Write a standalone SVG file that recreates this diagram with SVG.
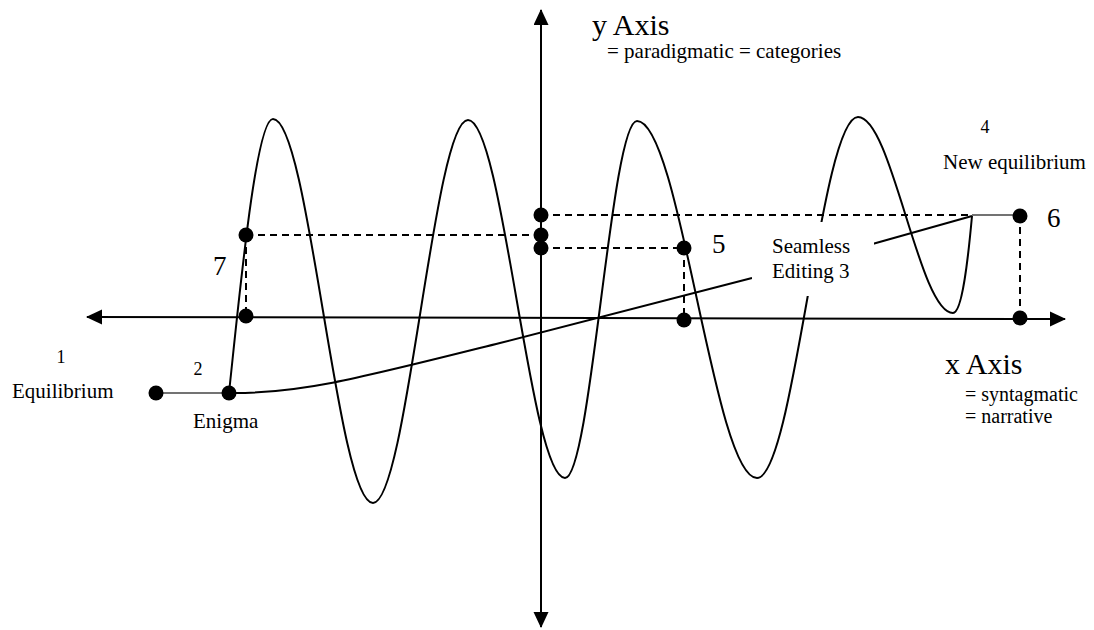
<svg xmlns="http://www.w3.org/2000/svg" width="1094" height="630" viewBox="0 0 1094 630">
  <style>
    .ax { stroke:#000; stroke-width:2; fill:none; }
    .wave { stroke:#000; stroke-width:2; fill:none; }
    .dash { stroke:#000; stroke-width:2; stroke-dasharray:7,5; fill:none; }
    .thin { stroke:#444; stroke-width:1.6; fill:none; }
    .dot { fill:#000; }
    text { font-family:"Liberation Serif","Times New Roman",serif; fill:#000; }
    .s { font-size:21px; }
    .t { font-size:20px; }
    .n { font-size:18px; }
    .b { font-size:27px; }
    .big { font-size:30px; }
  </style>
  <defs>
    <marker id="arr" markerUnits="userSpaceOnUse" markerWidth="16" markerHeight="16" refX="15" refY="7.5" orient="auto-start-reverse">
      <path d="M0,0 L16,7.5 L0,15 z" fill="#000"/>
    </marker>
  </defs>
  <rect width="1094" height="630" fill="#fff"/>

  <g id="connectors">
    <line class="ax" x1="541" y1="627" x2="541" y2="10" marker-start="url(#arr)" marker-end="url(#arr)"/>
    <line class="ax" x1="87" y1="317" x2="1065" y2="319" marker-start="url(#arr)" marker-end="url(#arr)"/>
    <path id="wave" class="wave" d="M229,393 C240,290 256,119 273,119 C309,119 337,503 373,503 C407,503 434,120 468,120 C503,120 530,478 565,478 C591,478 611,121 637,121 C680,121 714,478 757,478 C794,478 821,117 858,117 C892,117 919,313 953,313 C962,313 968,260 972,216"/>
    <path id="seamless-line" class="wave" d="M229,393 C300,394 360,378 500,343 L752,278 L876,243 L972,216"/>
    <line class="thin" x1="156" y1="393" x2="229" y2="393"/>
    <line class="dash" x1="246" y1="235" x2="541" y2="235"/>
    <line class="dash" x1="246" y1="235" x2="246" y2="316"/>
    <line class="dash" x1="541" y1="215" x2="972" y2="215"/>
    <line class="thin" x1="972" y1="215" x2="1020" y2="215"/>
    <line class="dash" x1="1020" y1="215" x2="1020" y2="318"/>
    <line class="dash" x1="541" y1="248" x2="684" y2="248"/>
    <line class="dash" x1="684" y1="248" x2="684" y2="319"/>
  </g>

  <g id="node-equilibrium">
    <circle class="dot" cx="156" cy="393" r="7.5"/>
    <text class="n" x="61" y="363" text-anchor="middle">1</text>
    <text class="s" x="12" y="398">Equilibrium</text>
  </g>
  <g id="node-enigma">
    <circle class="dot" cx="229" cy="393" r="7.5"/>
    <text class="n" x="198" y="375" text-anchor="middle">2</text>
    <text class="s" x="193" y="428">Enigma</text>
  </g>
  <g id="node-7">
    <circle class="dot" cx="246" cy="235" r="7.5"/>
    <circle class="dot" cx="246" cy="316" r="7.5"/>
    <text class="b" x="213" y="275">7</text>
  </g>
  <g id="node-yaxis-points">
    <circle class="dot" cx="541" cy="215" r="7.5"/>
    <circle class="dot" cx="541" cy="235" r="7.5"/>
    <circle class="dot" cx="541" cy="248" r="7.5"/>
  </g>
  <g id="node-5">
    <circle class="dot" cx="684" cy="248" r="7.5"/>
    <circle class="dot" cx="684" cy="320" r="7.5"/>
    <text class="b" x="712" y="253">5</text>
  </g>
  <g id="node-6">
    <circle class="dot" cx="1020" cy="216" r="7.5"/>
    <circle class="dot" cx="1020" cy="318" r="7.5"/>
    <text class="b" x="1047" y="227">6</text>
  </g>
  <g id="node-seamless">
    <rect x="752" y="222" width="122" height="74" fill="#fff"/>
    <text class="s" x="772" y="253">Seamless</text>
    <text class="s" x="772" y="278">Editing 3</text>
  </g>
  <g id="node-new-equilibrium">
    <text class="n" x="985" y="133" text-anchor="middle">4</text>
    <text class="s" x="943" y="169">New equilibrium</text>
  </g>
  <g id="label-yaxis">
    <text class="big" x="592" y="35">y Axis</text>
    <text class="s" x="607" y="58">= paradigmatic = categories</text>
  </g>
  <g id="label-xaxis">
    <text class="big" x="945" y="374">x Axis</text>
    <text class="t" x="965" y="401">= syntagmatic</text>
    <text class="t" x="965" y="423">= narrative</text>
  </g>
</svg>
